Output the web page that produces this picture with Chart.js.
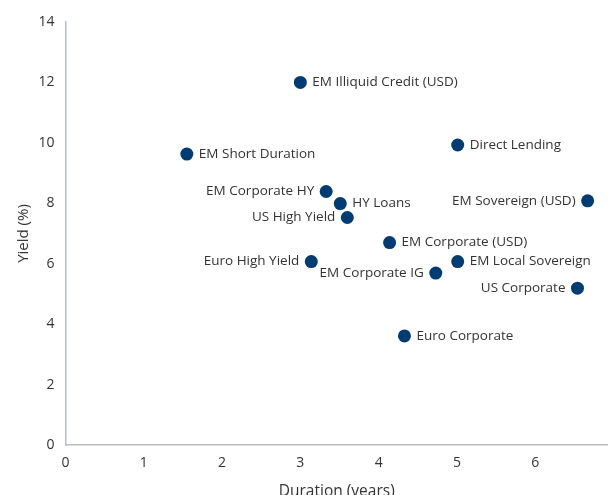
<!DOCTYPE html>
<html>
<head>
<meta charset="utf-8">
<script src="https://cdn.jsdelivr.net/npm/chart.js@4"></script>
<style>
    html, body { margin: 0; padding: 0; overflow: hidden; background: #fff; }
    #wrap { width: 608px; height: 501px; position: relative; }
</style>
</head>
<body>
<div id="wrap"><canvas id="ScatterChart"></canvas></div>
<script>
const assetNames = [
    'EM Illiquid Credit (USD)', 'EM Short Duration', 'Direct Lending', 'EM Corporate HY',
    'HY Loans', 'US High Yield', 'EM Sovereign (USD)', 'EM Corporate (USD)',
    'Euro High Yield', 'EM Local Sovereign', 'EM Corporate IG', 'US Corporate', 'Euro Corporate'
];
const durationYears = [3.0, 1.55, 5.01, 3.33, 3.51, 3.6, 6.67, 4.14, 3.14, 5.01, 4.73, 6.54, 4.33];
const yieldPct = [12.0, 9.63, 9.93, 8.39, 7.99, 7.53, 8.08, 6.7, 6.07, 6.07, 5.69, 5.19, 3.61];
const xTicks = [0, 1, 2, 3, 4, 5, 6];
const yTicks = [0, 2, 4, 6, 8, 10, 12, 14];

// labels written on the left of their dot
const leftSide = ['EM Corporate HY', 'US High Yield', 'EM Sovereign (USD)', 'Euro High Yield', 'EM Corporate IG', 'US Corporate'];

const points = [];
for (let k = 0; k < assetNames.length; k++) {
    points.push({ x: durationYears[k], y: yieldPct[k], name: assetNames[k] });
}

const pointLabels = {
    id: 'pointLabels',
    afterDatasetsDraw(chart) {
        const ctx = chart.ctx;
        const meta = chart.getDatasetMeta(0);
        ctx.save();
        ctx.font = '13.5px "Open Sans"';
        ctx.fillStyle = '#333333';
        ctx.textBaseline = 'middle';
        meta.data.forEach(function (el, i) {
            const name = points[i].name;
            if (leftSide.includes(name)) {
                ctx.textAlign = 'right';
                ctx.fillText(name, el.x - 12, el.y);
            } else {
                ctx.textAlign = 'left';
                ctx.fillText(name, el.x + 12, el.y);
            }
        });
        ctx.restore();
    }
};

const config = {
    type: 'scatter',
    data: {
        datasets: [{
            data: points,
            backgroundColor: '#003c71',
            borderWidth: 0,
            pointRadius: 6.5,
            pointHoverRadius: 6.5
        }]
    },
    options: {
        responsive: true,
        maintainAspectRatio: false,
        animation: false,
        layout: { autoPadding: false, padding: { top: 22, right: 0, bottom: 0, left: 0 } },
        plugins: { legend: { display: false }, tooltip: { enabled: false } },
        scales: {
            x: {
                type: 'linear',
                min: 0,
                max: 6.93,
                afterBuildTicks: function (scale) {
                    scale.ticks = xTicks.map(v => ({ value: v }));
                },
                afterFit: function (scale) {
                    scale.height = 56;
                    scale.paddingRight = 0;
                    scale.paddingLeft = 0;
                },
                grid: { display: false, drawTicks: false },
                border: { display: true, color: '#b9bfc6', width: 1.5 },
                ticks: { color: '#333333', font: { family: 'Open Sans', size: 14 }, padding: 10 },
                title: { display: true, text: 'Duration (years)', color: '#333333', font: { family: 'Open Sans', size: 15.5 }, padding: 0 }
            },
            y: {
                min: 0,
                max: 14,
                afterBuildTicks: function (scale) {
                    scale.ticks = yTicks.map(v => ({ value: v }));
                },
                afterFit: function (scale) { scale.width = 65.5; },
                grid: { display: false, drawTicks: false },
                border: { display: true, color: '#b9bfc6', width: 1.5 },
                ticks: { color: '#333333', font: { family: 'Open Sans', size: 14 }, padding: 11 },
                title: { display: true, text: 'Yield (%)', color: '#333333', font: { family: 'Open Sans', size: 15 }, padding: { top: 15, bottom: 0 } }
            }
        }
    },
    plugins: [pointLabels]
};

new Chart(document.getElementById('ScatterChart'), config);
</script>
</body>
</html>
